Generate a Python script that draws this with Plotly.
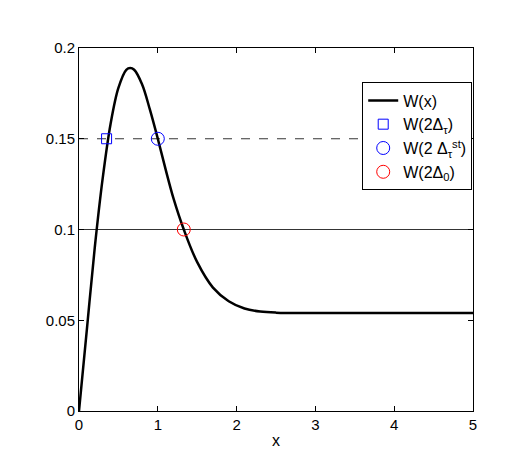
import plotly.graph_objects as go

# W(x) curve
x_curve = [0, 0.1, 0.2, 0.3, 0.4, 0.5, 0.6, 0.65, 0.7, 0.8, 0.9, 1.0, 1.1, 1.2,
           1.33, 1.5, 1.7, 1.9, 2.1, 2.3, 2.5, 3, 4, 5]
w_curve = [0, 0.045, 0.09, 0.128, 0.158, 0.178, 0.188, 0.189, 0.188, 0.18, 0.166,
           0.15, 0.133, 0.117, 0.1, 0.082, 0.068, 0.0605, 0.0565, 0.0548, 0.0542,
           0.054, 0.054, 0.054]

level_dashed = 0.15
level_solid = 0.1
x_range = [0, 5]

sq_x, sq_y = [0.35], [0.15]
st_x, st_y = [1.0], [0.15]
d0_x, d0_y = [1.33], [0.1]

x_ticks = [0, 1, 2, 3, 4, 5]
y_ticks = [0, 0.05, 0.1, 0.15, 0.2]
y_labels = ["0", "0.05", "0.1", "0.15", "0.2"]

fig = go.Figure()
fig.add_trace(go.Scatter(x=x_range, y=[level_dashed] * 2, mode="lines",
                         line=dict(color="black", width=0.8, dash="dash"),
                         showlegend=False))
fig.add_trace(go.Scatter(x=x_range, y=[level_solid] * 2, mode="lines",
                         line=dict(color="black", width=0.8), showlegend=False))
fig.add_trace(go.Scatter(x=x_curve, y=w_curve, mode="lines", name="W(x)",
                         line=dict(color="black", width=2.5, shape="spline")))
fig.add_trace(go.Scatter(x=sq_x, y=sq_y, mode="markers", name="W(2Δ<sub>τ</sub>)",
                         marker=dict(symbol="square-open", size=10, color="blue")))
fig.add_trace(go.Scatter(x=st_x, y=st_y, mode="markers",
                         name="W(2 Δ<sub>τ</sub><sup>st</sup>)",
                         marker=dict(symbol="circle-open", size=13, color="blue")))
fig.add_trace(go.Scatter(x=d0_x, y=d0_y, mode="markers", name="W(2Δ<sub>0</sub>)",
                         marker=dict(symbol="circle-open", size=13, color="red")))

axis = dict(showgrid=False, zeroline=False, showline=True, mirror="allticks",
            linecolor="black", linewidth=1, ticks="inside", ticklen=5,
            tickcolor="black", tickfont=dict(size=15, color="black"))
fig.update_xaxes(range=x_range, tickvals=x_ticks, title=dict(text="x", standoff=2,
                 font=dict(size=16, color="black")), **axis)
fig.update_yaxes(range=[0, 0.2], tickvals=y_ticks, ticktext=y_labels, **axis)
fig.update_layout(
    width=513, height=472, plot_bgcolor="white", paper_bgcolor="white",
    margin=dict(l=71, r=48, t=40, b=69),
    font=dict(family="Liberation Sans, Arial", color="black"),
    legend=dict(x=0.998, y=0.905, xanchor="right", yanchor="top",
                bgcolor="white", bordercolor="black", borderwidth=1,
                font=dict(size=16)),
)
fig.write_html("out.html")
